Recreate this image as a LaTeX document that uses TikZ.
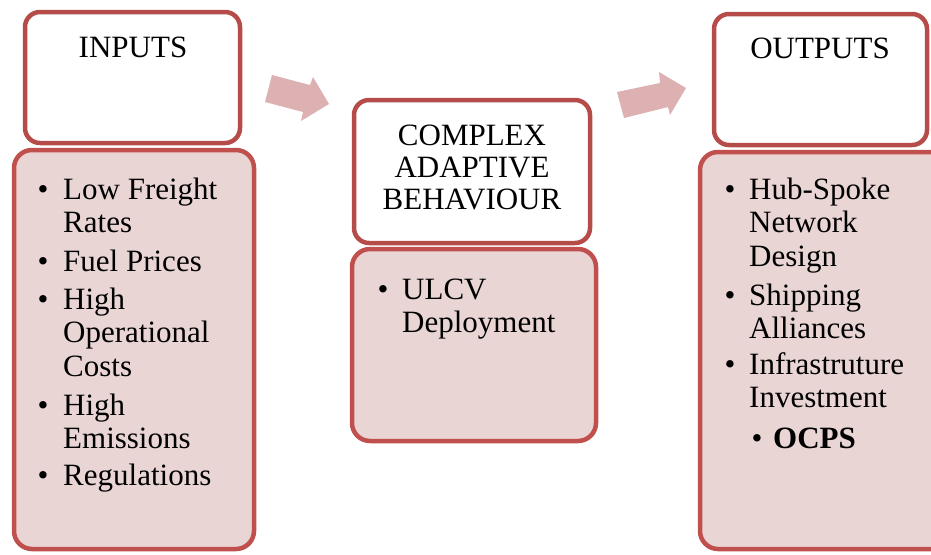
\documentclass[tikz,border=0pt]{standalone}
\usepackage{fontspec}
\setmainfont{Liberation Serif}
% stacked lines whose first baseline is the node's base
\newcommand{\linesL}[1]{\begin{tabular}[t]{@{}l@{}}#1\end{tabular}}
\newcommand{\linesC}[1]{\begin{tabular}[t]{@{}c@{}}#1\end{tabular}}
\begin{document}
\begin{tikzpicture}[x=1pt,y=-1pt,
  headbox/.style={draw=headred,line width=4.5pt,rounded corners=15pt,fill=white},
  listbox/.style={draw=listred,line width=4.5pt,rounded corners=18pt,fill=listpink},
  flowarrow/.style={fill=arrowpink,draw=none},
  headtext/.style={font=\fontsize{31}{32}\selectfont,anchor=base,inner sep=0pt},
  itemtext/.style={font=\fontsize{31}{33.5}\selectfont,anchor=base west,inner sep=0pt},
  dot/.style={font=\fontsize{31}{33.5}\selectfont,anchor=base,inner sep=0pt}]
\definecolor{headred}{HTML}{B54C4A}
\definecolor{listred}{HTML}{C0504D}
\definecolor{listpink}{HTML}{EAD5D5}
\definecolor{arrowpink}{HTML}{DDB1B1}
\useasboundingbox (0,0) rectangle (931,554);
\clip (0,0) rectangle (931,554);

% column boxes
\draw[listbox] (14,150) rectangle (254,549);
\draw[headbox] (25,12) rectangle (240,143);
\draw[listbox] (352,249) rectangle (596,441);
\draw[headbox] (354,100) rectangle (590,243);
\draw[listbox] (700,152) rectangle (950,549);
\draw[headbox] (714,14) rectangle (927,145);

% block arrows between columns
\fill[flowarrow] (272,75) -- (310,85) -- (313,77) -- (329,104) -- (301,121) -- (303,112) -- (265,102) -- cycle;
\fill[flowarrow] (617,92) -- (660,83) -- (659,72) -- (686,88) -- (670,115) -- (668,107) -- (624,118) -- cycle;

% headings
\node[headtext] (hin) at (133,57) {INPUTS};
\node[headtext] (hcab) at (472,145) {\linesC{COMPLEX\\ADAPTIVE\\BEHAVIOUR}};
\node[headtext] (hout) at (820,58) {OUTPUTS};

% inputs list
\node[dot] (b1) at (43,199) {•};
\node[itemtext] (i1) at (63,199) {\linesL{Low Freight\\Rates}};
\node[dot] (b2) at (43,271) {•};
\node[itemtext] (i2) at (63,271) {Fuel Prices};
\node[dot] (b3) at (43,309) {•};
\node[itemtext] (i3) at (63,309) {\linesL{High\\Operational\\Costs}};
\node[dot] (b4) at (43,415) {•};
\node[itemtext] (i4) at (63,415) {\linesL{High\\Emissions}};
\node[dot] (b5) at (43,485) {•};
\node[itemtext] (i5) at (63,485) {Regulations};

% behaviour list
\node[dot] (b6) at (383,299) {•};
\node[itemtext] (i6) at (402,299) {\linesL{ULCV\\Deployment}};

% outputs list
\node[dot] (b7) at (730,199) {•};
\node[itemtext] (i7) at (749,199) {\linesL{Hub-Spoke\\Network\\Design}};
\node[dot] (b8) at (730,305) {•};
\node[itemtext] (i8) at (749,305) {\linesL{Shipping\\Alliances}};
\node[dot] (b9) at (730,374) {•};
\node[itemtext] (i9) at (749,374) {\linesL{Infrastruture\\Investment}};
\node[dot] (b10) at (757,448) {•};
\node[itemtext] (i10) at (773,448) {\textbf{OCPS}};
\end{tikzpicture}
\end{document}
